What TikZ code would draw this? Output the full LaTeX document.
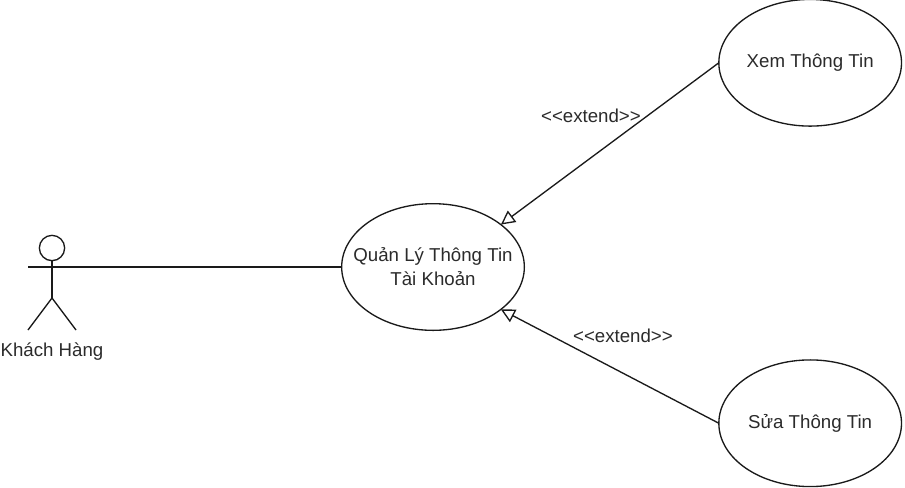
\documentclass[tikz,border=0pt]{standalone}
\usepackage{xcolor}
\usepackage{fontspec}
\setmainfont{Liberation Sans}
\usetikzlibrary{positioning,arrows.meta,shapes.geometric}
\definecolor{ucLine}{HTML}{1A1A1A}
\definecolor{ucText}{HTML}{2B2B2B}
\tikzset{
  uc-case/.style={
    ellipse, draw=ucLine, line width=1pt, fill=white, align=center,
    font=\fontsize{14pt}{18pt}\selectfont, text=ucText,
    inner ysep=0pt, inner xsep=-16pt, outer sep=0pt,
    minimum width=137pt, minimum height=95pt
  },
  uc-line/.style={line width=1pt, draw=ucLine},
  uc-extend/.style={uc-line, -{Triangle[open, length=10.5pt, width=10.5pt]}},
  uc-label/.style={font=\fontsize{14pt}{16pt}\selectfont, text=ucText,
    inner sep=0pt},
  uc-head/.style={circle, draw=ucLine, line width=1pt, fill=white,
    inner sep=0pt, outer sep=0pt, minimum size=19pt}
}
\begin{document}
\begin{tikzpicture}[x=0.75pt, y=-0.75pt]
\useasboundingbox (0,0) rectangle (905,487);
\node[uc-case] (manage) at (433,267) {Quản Lý Thông Tin\\ Tài Khoản};
\node[uc-case, above right=86pt and 186pt of manage] (view) {Xem Thông Tin};
\node[uc-case, below right=50pt and 186pt of manage] (edit) {Sửa Thông Tin};

% actor
\node[uc-head] (head) at (52,248) {};
\coordinate (hip) at (52,298);
\coordinate (handL) at (28,267);
\coordinate (handR) at (76,267);
\coordinate (footL) at (28,330);
\coordinate (footR) at (76,330);
\node[uc-label, below=33pt of hip] (customer) {Khách Hàng};
\draw[uc-line] (head) -- (hip);
\draw[uc-line] (handL) -- (handR);
\draw[uc-line] (footL) -- (hip) -- (footR);

\draw[uc-line] (handR) -- (manage);
\draw[uc-extend] (view.west) -- node[uc-label, pos=0.355, anchor=east, yshift=3pt] (extendA) {<{}<extend>{}>} (manage.32);
\draw[uc-extend] (edit.west) -- node[uc-label, pos=0.44, above=22pt] (extendB) {<{}<extend>{}>} (manage.-32);
\end{tikzpicture}
\end{document}
